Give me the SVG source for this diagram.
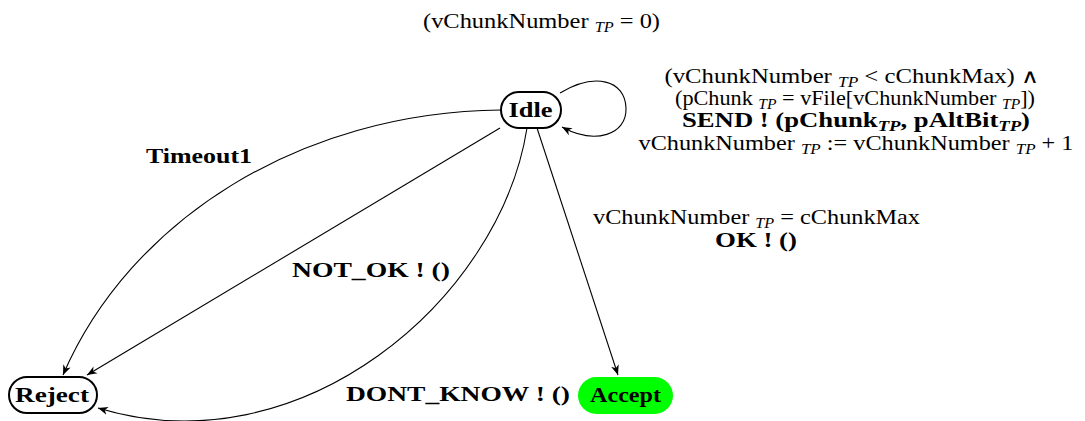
<svg xmlns="http://www.w3.org/2000/svg" width="1085" height="421" viewBox="0 0 1085 421">
<style>
.t{font-family:"Liberation Serif","Times New Roman",serif;font-size:21px;fill:#000}
.r{font-size:20px}
.b{font-weight:bold}
.s{font-style:italic;font-size:14px}
.node{stroke:#000;stroke-width:2;fill:#fff}
.e{fill:none;stroke:#000;stroke-width:1.1}
</style>
<defs>
<marker id="ah" viewBox="0 0 10 10" refX="10" refY="5" markerWidth="10" markerHeight="10" markerUnits="userSpaceOnUse" orient="auto">
<path d="M0,1 L10,5 L0,9 L3,5 Z" fill="#000"/>
</marker>
</defs>
<rect width="1085" height="421" fill="#fff"/>
<text class="t" x="541.5" y="28" text-anchor="middle" textLength="237" lengthAdjust="spacingAndGlyphs">(vChunkNumber <tspan class="s" dy="4">TP</tspan><tspan dy="-4"> = 0)</tspan></text>
<g id="edges">
<path class="e" d="M560,93 C595,72 625,80 626,108 C627,135 595,145 562,127" marker-end="url(#ah)"/>
<path class="e" d="M501,110 C300,112 130,220 63,375" marker-end="url(#ah)"/>
<path class="e" d="M500,128 L87,375" marker-end="url(#ah)"/>
<path class="e" d="M527,128 C500,300 300,470 98,408" marker-end="url(#ah)"/>
<path class="e" d="M537,128 L618,375" marker-end="url(#ah)"/>
</g>
<g id="labels">
<text class="t r" x="852" y="83" text-anchor="middle" textLength="375" lengthAdjust="spacingAndGlyphs">(vChunkNumber <tspan class="s" dy="4">TP</tspan><tspan dy="-4"> &lt; cChunkMax)  ∧</tspan></text>
<text class="t r" x="855" y="105" text-anchor="middle" textLength="360" lengthAdjust="spacingAndGlyphs">(pChunk <tspan class="s" dy="4">TP</tspan><tspan dy="-4"> = vFile[vChunkNumber </tspan><tspan class="s" dy="4">TP</tspan><tspan dy="-4">])</tspan></text>
<text class="t r b" x="856" y="127" text-anchor="middle" textLength="348" lengthAdjust="spacingAndGlyphs">SEND ! (pChunk<tspan class="s" dy="4">TP</tspan><tspan dy="-4">, pAltBit</tspan><tspan class="s" dy="4">TP</tspan><tspan dy="-4">)</tspan></text>
<text class="t r" x="856" y="150" text-anchor="middle" textLength="435" lengthAdjust="spacingAndGlyphs">vChunkNumber <tspan class="s" dy="4">TP</tspan><tspan dy="-4"> := vChunkNumber </tspan><tspan class="s" dy="4">TP</tspan><tspan dy="-4"> + 1</tspan></text>
<text class="t" x="756.5" y="224" text-anchor="middle" textLength="327" lengthAdjust="spacingAndGlyphs">vChunkNumber <tspan class="s" dy="4">TP</tspan><tspan dy="-4"> = cChunkMax</tspan></text>
<text class="t b" x="756" y="247" text-anchor="middle" textLength="82" lengthAdjust="spacingAndGlyphs">OK ! ()</text>
<text class="t b" x="199" y="163" text-anchor="middle" textLength="106" lengthAdjust="spacingAndGlyphs">Timeout1</text>
<text class="t b" x="371" y="277" text-anchor="middle" textLength="158" lengthAdjust="spacingAndGlyphs">NOT_OK ! ()</text>
<text class="t b" x="458" y="401" text-anchor="middle" textLength="224" lengthAdjust="spacingAndGlyphs">DONT_KNOW ! ()</text>
</g>
<g id="idle">
<rect class="node" x="501" y="92" width="60" height="36" rx="18"/>
<text class="t b" x="530.5" y="117" text-anchor="middle" textLength="44" lengthAdjust="spacingAndGlyphs">Idle</text>
</g>
<g id="reject">
<rect class="node" x="9" y="377" width="88" height="36" rx="18"/>
<text class="t b" x="52" y="402" text-anchor="middle" textLength="74" lengthAdjust="spacingAndGlyphs">Reject</text>
</g>
<g id="accept">
<rect x="578" y="377" width="95" height="37" rx="18.5" fill="#00ff00"/>
<text class="t b" x="625.5" y="402" text-anchor="middle" textLength="71" lengthAdjust="spacingAndGlyphs">Accept</text>
</g>
</svg>
